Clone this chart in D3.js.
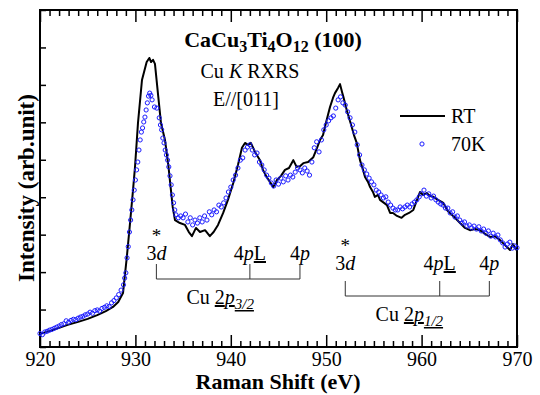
<!DOCTYPE html>
<html>
<head>
<meta charset="utf-8">
<script src="https://cdn.jsdelivr.net/npm/d3@7"></script>
<style>
  body { margin: 0; background: #fff; }
  svg { display: block; }
  svg text { font-family: "Liberation Serif", "Times New Roman", serif; fill: #000; }
</style>
</head>
<body>
<div id="chart"></div>
<script>
// RT spectrum (solid line)
const rtEnergy = [
  920.0, 921.05, 922.0, 922.9, 924.0, 925.0, 926.0, 926.9, 927.65, 928.2, 928.7, 929.1, 929.4, 929.75, 929.96,
  930.27, 930.69, 931.18, 931.46, 931.64, 931.85, 932.05, 932.4, 932.68, 933.1, 933.45, 933.7, 933.91, 934.15,
  934.67, 935.2, 935.6, 935.93, 936.35, 936.77, 937.3, 937.8, 938.2, 938.66, 939.2, 939.7, 940.26, 940.75,
  941.17, 941.49, 941.8, 942.1, 942.54, 943.06, 943.37, 943.76, 944.1, 944.45, 944.84, 945.26, 945.68, 946.1,
  946.55, 946.9, 947.25, 947.6, 948.1, 948.65, 949.04, 949.35, 949.67, 949.87, 950.19, 950.4, 950.71, 950.92,
  951.24, 951.45, 951.66, 951.8, 952.15, 952.39, 952.67, 952.91, 953.2, 953.54, 953.86, 954.07, 954.38, 954.6,
  954.9, 955.1, 955.43, 955.64, 956.06, 956.37, 956.7, 957.0, 957.42, 957.9, 958.26, 958.68, 959.13, 959.52,
  959.83, 960.15, 960.53, 960.88, 961.23, 961.72, 962.28, 962.66, 962.98, 963.5, 964.03, 964.55, 965.07, 965.6,
  966.12, 966.65, 967.17, 967.7, 968.2, 968.74, 969.27, 969.58, 969.9
];
const rtIntensity = [
  0.35, 0.43, 0.51, 0.59, 0.67, 0.75, 0.85, 0.96, 1.07, 1.20, 1.44, 2.40, 3.21, 4.19, 4.81,
  5.98, 7.13, 7.61, 7.72, 7.61, 7.67, 7.56, 6.68, 5.98, 5.53, 4.86, 4.25, 3.74, 3.39,
  3.31, 3.26, 3.07, 2.96, 3.18, 3.07, 3.12, 2.96, 3.07, 3.26, 3.58, 3.93, 4.38, 4.86,
  5.32, 5.45, 5.40, 5.45, 5.21, 4.99, 4.73, 4.54, 4.41, 4.27, 4.46, 4.57, 4.73, 4.78,
  4.99, 4.81, 4.83, 4.91, 4.94, 5.07, 5.32, 5.53, 5.66, 5.88, 6.20, 6.41, 6.65, 6.78,
  6.92, 7.02, 6.81, 6.68, 6.33, 6.12, 5.88, 5.66, 5.45, 4.99, 4.73, 4.54, 4.41, 4.27,
  4.14, 4.01, 4.06, 3.93, 3.85, 3.79, 3.58, 3.58, 3.50, 3.45, 3.53, 3.58, 3.66, 3.93,
  4.14, 4.06, 4.11, 4.03, 4.01, 3.93, 3.85, 3.66, 3.58, 3.45, 3.31, 3.18, 3.12, 3.15,
  3.12, 3.02, 2.94, 2.96, 2.86, 2.72, 2.59, 2.75, 2.59
];

// 70K spectrum (open circles)
const k70Energy = [
  920.0, 920.25, 920.5, 920.75, 921.0, 921.25, 921.5, 921.75, 922.0, 922.25, 922.5, 922.75, 923.0, 923.25, 923.5, 923.75,
  924.0, 924.25, 924.5, 924.75, 925.0, 925.25, 925.5, 925.75, 926.0, 926.25, 926.5, 926.75, 927.0, 927.25, 927.5, 927.75,
  928.0, 928.25, 928.5, 928.75, 928.875, 929.0, 929.125, 929.25, 929.375, 929.5, 929.625, 929.75, 929.875,
  930.0, 930.125, 930.25, 930.375, 930.5, 930.625, 930.75, 930.875, 931.0, 931.125, 931.25, 931.375, 931.5, 931.625, 931.75,
  932.0, 932.25, 932.5, 932.625, 932.75, 932.875, 933.0, 933.125, 933.25, 933.375, 933.5, 933.625, 933.75, 933.875,
  934.0, 934.125, 934.25, 934.5, 934.75, 935.0, 935.25, 935.5, 935.75, 936.0, 936.25, 936.5, 936.75, 937.0, 937.25, 937.5, 937.75,
  938.0, 938.25, 938.5, 938.75, 939.0, 939.25, 939.5, 939.75, 940.0, 940.25, 940.5, 940.75, 941.0, 941.25, 941.5, 941.75,
  942.0, 942.25, 942.5, 942.75, 943.0, 943.25, 943.5, 943.75, 944.0, 944.25, 944.5, 944.75, 945.0, 945.25, 945.5, 945.75,
  946.0, 946.25, 946.5, 946.75, 947.0, 947.25, 947.5, 947.75, 948.0, 948.25, 948.5, 948.75, 949.0, 949.25, 949.5, 949.75,
  950.0, 950.25, 950.5, 950.75, 951.0, 951.25, 951.5, 951.75, 952.0, 952.25, 952.5, 952.75, 953.0, 953.25, 953.5, 953.75,
  954.0, 954.25, 954.5, 954.75, 955.0, 955.25, 955.5, 955.75, 956.0, 956.25, 956.5, 956.75, 957.0, 957.25, 957.5, 957.75,
  958.0, 958.25, 958.5, 958.75, 959.0, 959.25, 959.5, 959.75, 960.0, 960.25, 960.5, 960.75, 961.0, 961.25, 961.5, 961.75,
  962.0, 962.25, 962.5, 962.75, 963.0, 963.25, 963.5, 963.75, 964.0, 964.25, 964.5, 964.75, 965.0, 965.25, 965.5, 965.75,
  966.0, 966.25, 966.5, 966.75, 967.0, 967.25, 967.5, 967.75, 968.0, 968.25, 968.5, 968.75, 969.0, 969.25, 969.5, 969.75, 970.0
];
const k70Intensity = [
  0.36, 0.33, 0.40, 0.42, 0.45, 0.47, 0.50, 0.53, 0.56, 0.60, 0.62, 0.70, 0.66, 0.71, 0.74, 0.73,
  0.77, 0.80, 0.82, 0.86, 0.88, 0.93, 0.90, 0.97, 0.99, 0.96, 1.03, 1.06, 1.10, 1.08, 1.18, 1.24,
  1.31, 1.40, 1.52, 1.66, 1.84, 1.98, 2.38, 2.68, 3.07, 3.39, 3.66, 3.93, 4.19,
  4.46, 4.73, 4.94, 5.26, 5.53, 5.74, 5.85, 6.01, 6.14, 6.33, 6.52, 6.70, 6.78, 6.72, 6.60,
  6.41, 6.38, 6.12, 5.93, 5.80, 5.58, 5.45, 5.26, 5.13, 4.99, 4.81, 4.57, 4.33, 4.06,
  3.85, 3.66, 3.53, 3.45, 3.50, 3.45, 3.55, 3.34, 3.45, 3.26, 3.39, 3.31, 3.45, 3.34, 3.50, 3.39, 3.61,
  3.53, 3.66, 3.61, 3.79, 3.74, 3.85, 3.98, 4.14, 4.27, 4.46, 4.59, 4.78, 4.99, 5.05, 5.26, 5.34,
  5.40, 5.26, 5.13, 5.18, 4.94, 4.86, 4.73, 4.59, 4.51, 4.38, 4.30, 4.46, 4.35, 4.51, 4.41, 4.57,
  4.46, 4.59, 4.54, 4.67, 4.78, 4.73, 4.65, 4.78, 4.70, 4.59, 4.94, 5.32, 5.48, 5.21, 5.53, 5.80,
  5.93, 6.04, 6.12, 6.17, 6.38, 6.60, 6.68, 6.52, 6.46, 6.28, 6.12, 5.93, 5.74, 5.40, 5.13, 4.86,
  4.73, 4.62, 4.51, 4.41, 4.33, 4.19, 4.14, 4.06, 3.98, 4.01, 3.87, 3.79, 3.71, 3.66, 3.66, 3.74,
  3.69, 3.74, 3.79, 3.74, 3.82, 3.87, 3.93, 4.01, 4.09, 4.19, 4.03, 4.09, 3.98, 4.03, 3.93, 3.87,
  3.82, 3.79, 3.71, 3.71, 3.58, 3.61, 3.47, 3.50, 3.39, 3.31, 3.34, 3.23, 3.26, 3.18, 3.23, 3.15,
  3.21, 3.10, 3.15, 3.04, 3.10, 2.96, 3.04, 2.94, 2.99, 2.86, 2.78, 2.67, 2.75, 2.80, 2.64, 2.70, 2.65
];

const xTicks = [920, 930, 940, 950, 960, 970];
const seriesNames = ["RT", "70K"];
// final-state markers: [3d, 4pL, 4p] for each Cu 2p edge
const edge32 = [932.2, 942.0, 947.25];
const edge12 = [952.0, 961.9, 967.1];

const width = 540, height = 395;
const margin = {top: 10, right: 23, bottom: 48, left: 40};

const svg = d3.select('#chart').append('svg')
  .attr('width', width)
  .attr('height', height);

const x = d3.scaleLinear().domain([920, 970]).range([margin.left, width - margin.right]);
const y = d3.scaleLinear().domain([0, 9]).range([height - margin.bottom, margin.top]);

const rt = rtEnergy.map((e, i) => ({e, v: rtIntensity[i]}));
const k70 = k70Energy.map((e, i) => ({e, v: k70Intensity[i]}));

// axes, ticks pointing inward
const bottom = height - margin.bottom;
const minorTicks = d3.range(921, 970, 1).filter(d => d % 10);
svg.append('g')
  .attr('transform', `translate(0,${bottom})`)
  .call(d3.axisBottom(x).tickValues(minorTicks).tickSize(-6).tickFormat(''))
  .call(g => g.select('.domain').remove());
svg.append('g')
  .attr('transform', `translate(0,${bottom})`)
  .call(d3.axisBottom(x).tickValues(xTicks).tickSize(-12).tickPadding(5).tickFormat(d3.format('d')))
  .call(g => g.select('.domain').remove())
  .call(g => g.selectAll('text').style('font-size', '20px'));

svg.append('g')
  .attr('transform', `translate(0,${margin.top})`)
  .call(d3.axisTop(x).tickValues(minorTicks).tickSize(-6).tickFormat(''))
  .call(g => g.select('.domain').remove());
svg.append('g')
  .attr('transform', `translate(0,${margin.top})`)
  .call(d3.axisTop(x).tickValues(xTicks).tickSize(-12).tickFormat(''))
  .call(g => g.select('.domain').remove());

svg.append('g')
  .attr('transform', `translate(${margin.left},0)`)
  .call(d3.axisLeft(y).ticks(9).tickSize(-6).tickFormat(''))
  .call(g => g.select('.domain').remove());

svg.selectAll('.tick line').attr('stroke', '#000').attr('stroke-width', 1.5);

// frame
svg.append('rect')
  .attr('x', margin.left).attr('y', margin.top)
  .attr('width', width - margin.left - margin.right)
  .attr('height', height - margin.top - margin.bottom)
  .attr('fill', 'none').attr('stroke', '#000').attr('stroke-width', 2);

// data
const line = d3.line().x(d => x(d.e)).y(d => y(d.v));
svg.append('path')
  .datum(rt)
  .attr('d', line)
  .attr('fill', 'none')
  .attr('stroke', '#000')
  .attr('stroke-width', 2)
  .attr('stroke-linejoin', 'round');

svg.append('g').selectAll('circle')
  .data(k70)
  .join('circle')
    .attr('cx', d => x(d.e))
    .attr('cy', d => y(d.v))
    .attr('r', 2.1)
    .attr('fill', 'none')
    .attr('stroke', '#1a1aff')
    .attr('stroke-width', 1);

// titles
const title = svg.append('text')
  .attr('x', 273).attr('y', 47)
  .attr('text-anchor', 'middle')
  .style('font-size', '22px').style('font-weight', 'bold');
[['CaCu', 0], ['3', 1], ['Ti', 0], ['4', 1], ['O', 0], ['12', 1], [' (100)', 0]].forEach(([t, sub], i, arr) => {
  const prev = i > 0 ? arr[i - 1][1] : 0;
  title.append('tspan')
    .attr('dy', sub === prev ? 0 : (sub ? 5 : -5))
    .style('font-size', sub ? '16px' : '22px')
    .text(t);
});

const sub1 = svg.append('text')
  .attr('x', 250).attr('y', 78).attr('text-anchor', 'middle').style('font-size', '20px');
sub1.append('tspan').text('Cu ');
sub1.append('tspan').style('font-style', 'italic').text('K');
sub1.append('tspan').text(' RXRS');

svg.append('text')
  .attr('x', 246).attr('y', 106).attr('text-anchor', 'middle').style('font-size', '20px')
  .text('E//[011]');

// legend
svg.append('line')
  .attr('x1', 400).attr('x2', 445).attr('y1', 116).attr('y2', 116)
  .attr('stroke', '#000').attr('stroke-width', 2);
svg.append('circle')
  .attr('cx', 422).attr('cy', 144).attr('r', 2.1)
  .attr('fill', 'none').attr('stroke', '#1a1aff').attr('stroke-width', 1);
svg.selectAll('.legend-label')
  .data(seriesNames)
  .join('text')
    .attr('class', 'legend-label')
    .attr('x', 451)
    .attr('y', (d, i) => 123 + i * 28)
    .style('font-size', '20px')
    .text(d => d);

// edge annotations
function edgeGroup(edges, textY, barY, labelY, jLabel) {
  const g = svg.append('g');
  const [e3d, e4pL, e4p] = edges;
  g.append('text').attr('x', x(e3d)).attr('y', textY - 18).attr('text-anchor', 'middle')
    .style('font-size', '19px').text('*');
  g.append('text').attr('x', x(e3d)).attr('y', textY).attr('text-anchor', 'middle')
    .style('font-size', '20px')
    .call(t => { t.append('tspan').text('3'); t.append('tspan').style('font-style', 'italic').text('d'); });
  g.append('text').attr('x', x(e4pL)).attr('y', textY).attr('text-anchor', 'middle')
    .style('font-size', '20px')
    .call(t => {
      t.append('tspan').text('4');
      t.append('tspan').style('font-style', 'italic').text('p');
      t.append('tspan').style('text-decoration', 'underline').text('L');
    });
  g.append('text').attr('x', x(e4p)).attr('y', textY).attr('text-anchor', 'middle')
    .style('font-size', '20px')
    .call(t => { t.append('tspan').text('4'); t.append('tspan').style('font-style', 'italic').text('p'); });

  g.selectAll('line.tickmark')
    .data(edges)
    .join('line')
      .attr('class', 'tickmark')
      .attr('x1', d => x(d)).attr('x2', d => x(d))
      .attr('y1', barY - 15).attr('y2', barY)
      .attr('stroke', '#333').attr('stroke-width', 1);
  g.append('line')
    .attr('x1', x(e3d)).attr('x2', x(e4p)).attr('y1', barY).attr('y2', barY)
    .attr('stroke', '#333').attr('stroke-width', 1);

  const lbl = g.append('text')
    .attr('x', (x(e3d) + x(e4p)) / 2 - 8).attr('y', labelY)
    .attr('text-anchor', 'middle').style('font-size', '20px');
  lbl.append('tspan').text('Cu ');
  lbl.append('tspan').style('text-decoration', 'underline').text('2');
  lbl.append('tspan').style('font-style', 'italic').style('text-decoration', 'underline').text('p');
  lbl.append('tspan').style('font-style', 'italic').style('text-decoration', 'underline')
    .style('font-size', '15px').attr('dy', 5).text(jLabel);
}
edgeGroup(edge32, 260, 279, 304, '3/2');
edgeGroup(edge12, 270, 296, 321, '1/2');

// axis titles
svg.append('text')
  .attr('x', 278).attr('y', 389)
  .attr('text-anchor', 'middle')
  .style('font-size', '22px').style('font-weight', 'bold')
  .text('Raman Shift (eV)');

svg.append('text')
  .attr('transform', `translate(34,188) rotate(-90)`)
  .attr('text-anchor', 'middle')
  .style('font-size', '23px').style('font-weight', 'bold')
  .text('Intensity (arb.unit)');
</script>
</body>
</html>
